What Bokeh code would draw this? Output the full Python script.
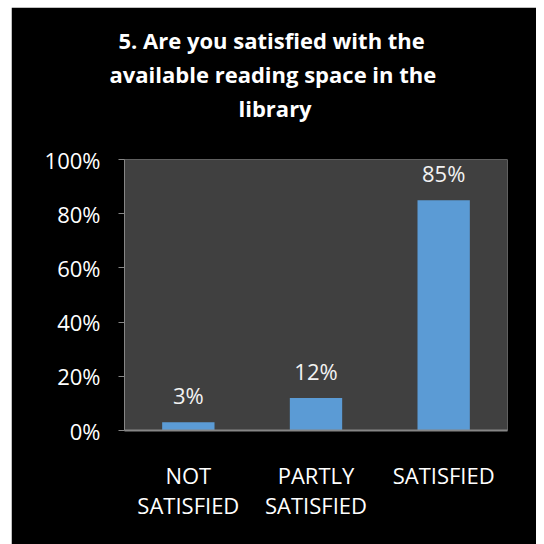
from bokeh.plotting import figure
from bokeh.models import (ColumnDataSource, LabelSet, Title, FixedTicker, NumeralTickFormatter,
                          Range1d, LinearAxis)
from bokeh.core.properties import value
from bokeh.embed import file_html
from bokeh.resources import INLINE

categories = ["NOT SATISFIED", "PARTLY SATISFIED", "SATISFIED"]
category_labels = ["NOT\nSATISFIED", "PARTLY\nSATISFIED", "SATISFIED"]
values = [0.03, 0.12, 0.85]
value_labels = ["3%", "12%", "85%"]
y_ticks = [0, 0.2, 0.4, 0.6, 0.8, 1.0]
title_lines = ["5. Are you satisfied with the", "available reading space in the", "library"]

FONT = "Open Sans"

# category slots on a numeric scale: slot i is centred at i + 0.5
xpos = [i + 0.5 for i in range(len(categories))]
source = ColumnDataSource(dict(x=xpos, cat=categories, val=values, lab=value_labels))

p = figure(width=525, height=537, margin=(7, 0, 0, 11),
           output_backend="svg", toolbar_location=None,
           min_border_left=113, min_border_right=29,
           min_border_top=152, min_border_bottom=114)
p.x_range = Range1d(0, len(categories))
p.y_range = Range1d(0, 1)
p.background_fill_color = "#404040"
p.border_fill_color = "#000000"
p.outline_line_color = None
p.grid.grid_line_color = None

p.vbar(x="x", top="val", width=0.41, source=source, fill_color="#5B9BD5", line_color=None)

labels = LabelSet(x="x", y="val", text="lab", source=source, text_align="center",
                  text_baseline="alphabetic", y_offset=18, text_color="#F2F2F2",
                  text_font=value(FONT), text_font_size="22px")
p.add_layout(labels)

# y axis
p.yaxis.ticker = FixedTicker(ticks=y_ticks)
p.yaxis.formatter = NumeralTickFormatter(format="0%")
p.yaxis.axis_line_color = "#868686"
p.yaxis.major_tick_line_color = "#868686"
p.yaxis.major_tick_out = 6
p.yaxis.major_tick_in = 0
p.yaxis.minor_tick_line_color = None
p.yaxis.major_label_text_color = "#FFFFFF"
p.yaxis.major_label_text_font = FONT
p.yaxis.major_label_text_font_size = "22px"
p.yaxis.major_label_standoff = 18

# x axis: two stacked axes give the two label lines
line1 = {x: l.split("\n")[0] for x, l in zip(xpos, category_labels)}
line2 = {x: (l.split("\n")[1] if "\n" in l else "") for x, l in zip(xpos, category_labels)}

ax1 = p.xaxis[0]
ax1.ticker = FixedTicker(ticks=xpos)
ax1.axis_line_color = "#868686"
ax1.axis_line_width = 2
ax1.major_tick_line_color = None
ax1.minor_tick_line_color = None
ax1.major_tick_out = 0
ax1.major_tick_in = 0
ax1.major_label_overrides = line1
ax1.major_label_text_color = "#FFFFFF"
ax1.major_label_text_font = FONT
ax1.major_label_text_font_size = "22px"
ax1.major_label_standoff = 29

ax2 = LinearAxis(ticker=FixedTicker(ticks=xpos), axis_line_color=None,
                 major_tick_line_color=None, minor_tick_line_color=None,
                 major_tick_out=0, major_tick_in=0, major_label_overrides=line2,
                 major_label_text_color="#FFFFFF", major_label_text_font=FONT,
                 major_label_text_font_size="22px", major_label_standoff=-3)
p.add_layout(ax2, "below")

# title: spacer closest to the frame, then the lines outward;
# each line is left-aligned with an offset so the block is centred on the whole chart
title_offsets = [-6, -15, 114]
p.add_layout(Title(text=" ", text_font_size="1px", standoff=33), "above")
for line, off in reversed(list(zip(title_lines, title_offsets))):
    p.add_layout(Title(text=line, align="left", offset=off, text_color="#FFFFFF",
                       text_font=FONT, text_font_style="bold", text_font_size="22px",
                       standoff=2), "above")

open("out.html", "w").write(file_html(p, INLINE))
